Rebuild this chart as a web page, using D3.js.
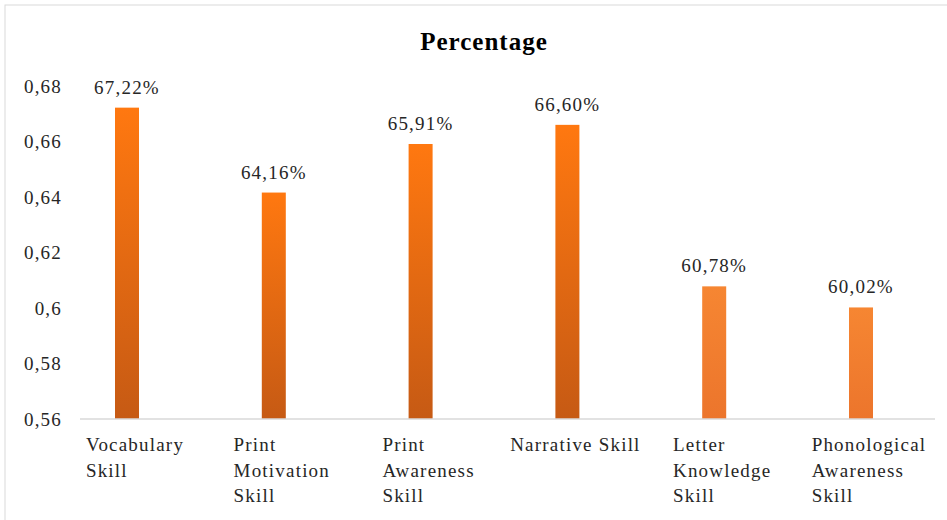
<!DOCTYPE html>
<html>
<head>
<meta charset="utf-8">
<script src="https://cdn.jsdelivr.net/npm/d3@7"></script>
<style>
	body { margin: 0; background: #fff; }
	text { font-family: "Liberation Serif", "Times New Roman", serif; fill: #262626; }
</style>
</head>
<body>
<div id="chart"></div>
<script>
	// chart data
	var categories = ["Vocabulary Skill", "Print Motivation Skill", "Print Awareness Skill",
		"Narrative Skill", "Letter Knowledge Skill", "Phonological Awareness Skill"];
	var categoryLines = [["Vocabulary", "Skill"], ["Print", "Motivation", "Skill"], ["Print", "Awareness", "Skill"],
		["Narrative Skill"], ["Letter", "Knowledge", "Skill"], ["Phonological", "Awareness", "Skill"]];
	var values = [0.6722, 0.6416, 0.6591, 0.6660, 0.6078, 0.6002];
	var valueLabels = ["67,22%", "64,16%", "65,91%", "66,60%", "60,78%", "60,02%"];
	var tickValues = [0.56, 0.58, 0.60, 0.62, 0.64, 0.66, 0.68];
	var tickLabels = ["0,56", "0,58", "0,6", "0,62", "0,64", "0,66", "0,68"];

	var width = 947, height = 520;

	var svg = d3.select("#chart").append("svg")
		.attr("width", width)
		.attr("height", height);

	// gradients for the bars (last two are flatter)
	var defs = svg.append("defs");
	var g1 = defs.append("linearGradient").attr("id", "gradA")
		.attr("x1", 0).attr("y1", 0).attr("x2", 0).attr("y2", 1);
	g1.append("stop").attr("offset", "0%").attr("stop-color", "#ff7810");
	g1.append("stop").attr("offset", "100%").attr("stop-color", "#c65a14");
	var g2 = defs.append("linearGradient").attr("id", "gradB")
		.attr("x1", 0).attr("y1", 0).attr("x2", 0).attr("y2", 1);
	g2.append("stop").attr("offset", "0%").attr("stop-color", "#f68632");
	g2.append("stop").attr("offset", "100%").attr("stop-color", "#ec752c");

	// frame
	svg.append("rect")
		.attr("x", 5).attr("y", 5)
		.attr("width", width).attr("height", height)
		.attr("fill", "none")
		.attr("stroke", "#d9d9d9");

	var x = d3.scalePoint().domain(categories).range([127, 861]);
	var y = d3.scaleLinear().domain([0.56, 0.68]).range([419, 86]);
	var barWidth = 24;

	// title
	svg.append("text")
		.attr("x", 484).attr("y", 50)
		.attr("text-anchor", "middle")
		.style("font-size", "25px")
		.style("font-weight", "bold")
		.style("letter-spacing", "1px")
		.style("fill", "#000")
		.text("Percentage");

	// y axis labels (no line, no ticks)
	var yAxis = d3.axisLeft(y)
		.tickValues(tickValues)
		.tickFormat(function(d, i) { return tickLabels[i]; })
		.tickSize(0)
		.tickPadding(0);
	var yg = svg.append("g")
		.attr("transform", "translate(62,0)")
		.call(yAxis);
	yg.select(".domain").remove();
	yg.selectAll("text")
		.style("font-size", "19px")
		.style("letter-spacing", "1.2px")
		.style("font-family", "Liberation Serif")
		.attr("fill", "#262626");

	// bars
	svg.selectAll("rect.bar").data(values)
		.enter()
		.append("rect")
		.attr("class", "bar")
		.attr("x", function(d, i) { return x(categories[i]) - barWidth / 2; })
		.attr("y", function(d) { return y(d); })
		.attr("width", barWidth)
		.attr("height", function(d) { return y(0.56) - y(d); })
		.attr("fill", function(d, i) { return i < 4 ? "url(#gradA)" : "url(#gradB)"; });

	// value labels
	svg.selectAll("text.value").data(values)
		.enter()
		.append("text")
		.attr("class", "value")
		.attr("x", function(d, i) { return x(categories[i]); })
		.attr("y", function(d) { return y(d) - 14; })
		.attr("text-anchor", "middle")
		.style("font-size", "19px")
		.style("letter-spacing", "1.2px")
		.text(function(d, i) { return valueLabels[i]; });

	// x axis line
	svg.append("line")
		.attr("x1", 80).attr("x2", 935)
		.attr("y1", y(0.56)).attr("y2", y(0.56))
		.attr("stroke", "#d9d9d9")
		.attr("stroke-width", 1.5);

	// category labels, left aligned block roughly centred under each bar
	categories.forEach(function(c, i) {
		var t = svg.append("text")
			.style("font-size", "19px")
			.style("letter-spacing", "1.2px");
		categoryLines[i].forEach(function(line, j) {
			t.append("tspan")
				.attr("y", 451 + j * 25.5)
				.text(line);
		});
		var maxW = 0;
		t.selectAll("tspan").each(function() {
			maxW = Math.max(maxW, this.getComputedTextLength());
		});
		t.selectAll("tspan").attr("x", x(c) + 8 - maxW / 2);
	});
</script>
</body>
</html>
